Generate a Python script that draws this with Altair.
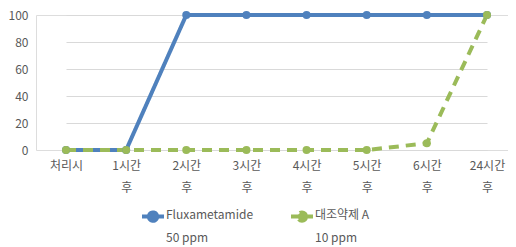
import altair as alt
import pandas as pd

times = ["처리시", "1시간|후", "2시간|후", "3시간|후", "4시간|후", "5시간|후", "6시간|후", "24시간|후"]
flux = [0, 0, 100, 100, 100, 100, 100, 100]
ctrl = [0, 0, 0, 0, 0, 0, 5, 100]
series = ["Fluxametamide|50 ppm", "대조약제 A|10 ppm"]

rows = []
for t, v in zip(times, flux):
    rows.append({"time": t, "value": v, "series": series[0]})
for t, v in zip(times, ctrl):
    rows.append({"time": t, "value": v, "series": series[1]})
df = pd.DataFrame(rows)

font = "Noto Sans CJK KR"
sym = "M-1,0.6H1M0.38,0.6A0.38,0.38,0,1,1,-0.38,0.6A0.38,0.38,0,1,1,0.38,0.6Z"

chart = alt.Chart(df).mark_line(
    point=alt.OverlayMarkDef(filled=True, size=65, opacity=1),
    strokeWidth=4,
).encode(
    x=alt.X("time:N", sort=times, scale=alt.Scale(type="point", range=[30, 451], padding=0),
            axis=alt.Axis(title=None, labelAngle=0, labelExpr="split(datum.label, '|')",
                          labelFont=font, labelFontSize=12, labelColor="#595959",
                          labelLineHeight=22, labelPadding=10, ticks=False,
                          domainColor="#d9d9d9", grid=False)),
    y=alt.Y("value:Q", scale=alt.Scale(domain=[0, 100]),
            axis=alt.Axis(title=None, values=[0, 20, 40, 60, 80, 100], domain=False, ticks=False,
                          labelFont=font, labelFontSize=12, labelColor="#595959",
                          gridColor="#d9d9d9", labelPadding=8)),
    color=alt.Color("series:N", sort=series,
                    scale=alt.Scale(domain=series, range=["#4f81bd", "#9bbb59"]),
                    legend=alt.Legend(title=None, orient="none", direction="horizontal",
                                      legendX=104, legendY=182,
                                      labelExpr="split(datum.label, '|')",
                                      labelFont=font, labelFontSize=12, labelColor="#595959",
                                      labelBaseline="top",
                                      symbolType=sym, symbolStrokeWidth=4, symbolSize=484,
                                      columnPadding=29, labelOffset=0)),
    strokeDash=alt.StrokeDash("series:N", sort=series,
                              scale=alt.Scale(domain=series, range=[[1, 0], [10, 7]]),
                              legend=None),
).properties(
    width=472, height=135,
    autosize=alt.AutoSizeParams(type="none"),
    padding={"left": 28, "top": 7, "right": 0, "bottom": 95},
).configure_view(stroke=None).configure(
    style={"guide-label": {"lineHeight": 23}}
)

chart.save("out.html", embed_options={"renderer": "svg", "actions": False})
